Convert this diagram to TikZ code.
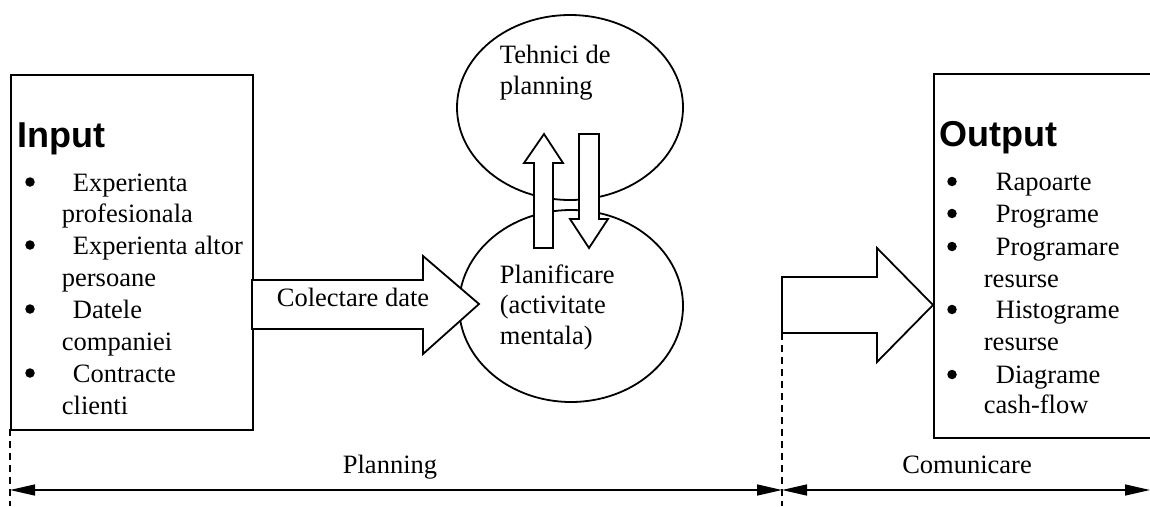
\documentclass[tikz,border=0pt]{standalone}
\usepackage{fontspec}
\setmainfont{Liberation Serif}
\newfontfamily\headfont{Liberation Sans}
\usetikzlibrary{arrows.meta,shapes.geometric}
\begin{document}
\begin{tikzpicture}[x=1pt,y=-1pt,
  line width=1.8pt,
  txt/.style={anchor=base west, inner sep=0pt, font=\fontsize{26.5}{32}\selectfont},
  bul/.style={circle, fill=black, draw=none, inner sep=0pt, minimum size=9.5pt},
  lbl/.style={anchor=base, inner sep=0pt, font=\fontsize{26.5}{32}\selectfont},
  head/.style={anchor=base west, inner sep=0pt, font=\headfont\bfseries\fontsize{36}{40}\selectfont},
  box/.style={draw, rectangle, inner sep=0pt, anchor=north west},
  oval/.style={draw, ellipse, inner sep=0pt},
  blockarrow/.style={draw, fill=white, line join=miter},
  dimline/.style={line width=1.5pt, {Triangle[length=25pt,width=11pt]}-{Triangle[length=25pt,width=11pt]}},
  guide/.style={dash pattern=on 7pt off 5pt, line width=1.4pt}]
\useasboundingbox (0,0) rectangle (1150,506);

% boxes
\node[box, minimum width=242pt, minimum height=355pt] (inbox) at (10,74) {};
\node[box, minimum width=230pt, minimum height=364pt] (outbox) at (933,73) {};

% ellipses
\node[oval, minimum width=226pt, minimum height=185pt] (tech) at (570,107.5) {};
\node[oval, minimum width=224pt, minimum height=192pt] (plan) at (571,306) {};

% block arrows
\draw[blockarrow] (252,280) -- (423,280) -- (423,256) -- (479,304) -- (423,354) -- (423,329) -- (252,329) -- cycle;
\draw[blockarrow] (782,277) -- (877,277) -- (877,248) -- (933,305) -- (877,362) -- (877,333) -- (782,333) -- cycle;
\draw[blockarrow] (534,248) -- (534,163) -- (524,163) -- (544,134) -- (563,163) -- (553,163) -- (553,248) -- cycle;
\draw[blockarrow] (579,134) -- (599,134) -- (599,219) -- (608,219) -- (589,248) -- (570,219) -- (579,219) -- cycle;

% headings
\node[head] (intitle) at (17,147) {Input};
\node[head] (outtitle) at (939,146) {Output};

% input list
\foreach \xx/\yy/\t [count=\i] in {72/191/Experienta, 61/222/profesionala, 72/254/Experienta altor, 61/286/persoane, 72/318/Datele, 61/350/companiei, 72/382/Contracte, 61/414/clienti}
  \node[txt] (in\i) at (\xx,\yy) {\t};
\foreach \yy [count=\i] in {182,245,309,373}
  \node[bul] (inb\i) at (30,\yy) {};

% output list
\foreach \xx/\yy/\t [count=\i] in {995/190/Rapoarte, 995/222/Programe, 995/255/Programare, 983/287/resurse, 995/318/Histograme, 983/350/resurse, 995/383/Diagrame, 983/413/cash-flow}
  \node[txt] (out\i) at (\xx,\yy) {\t};
\foreach \yy [count=\i] in {181.5,213.5,246.5,309.5,374.5}
  \node[bul] (outb\i) at (952,\yy) {};

% ellipse texts
\node[txt] (t1) at (499,63) {Tehnici de};
\node[txt] (t2) at (499,94) {planning};
\node[txt] (p1) at (499,283) {Planificare};
\node[txt] (p2) at (499,313) {(activitate};
\node[txt] (p3) at (499,344) {mentala)};
\node[txt] (col) at (276,306) {Colectare date};

% guides and dimension arrows
\coordinate (g1top) at (10,429);
\coordinate (g1bot) at (10,506);
\coordinate (g2top) at (782,333);
\coordinate (g2bot) at (782,506);
\coordinate (a1) at (10,490);
\coordinate (a2) at (782,490);
\coordinate (a3) at (1150,490);
\draw[guide] (g1top) -- (g1bot);
\draw[guide] (g2top) -- (g2bot);
\draw[dimline] (a1) -- (a2);
\draw[dimline] (a2) -- (a3);
\node[lbl] (planning) at (390,473) {Planning};
\node[lbl] (comunicare) at (967,473) {Comunicare};
\end{tikzpicture}
\end{document}
